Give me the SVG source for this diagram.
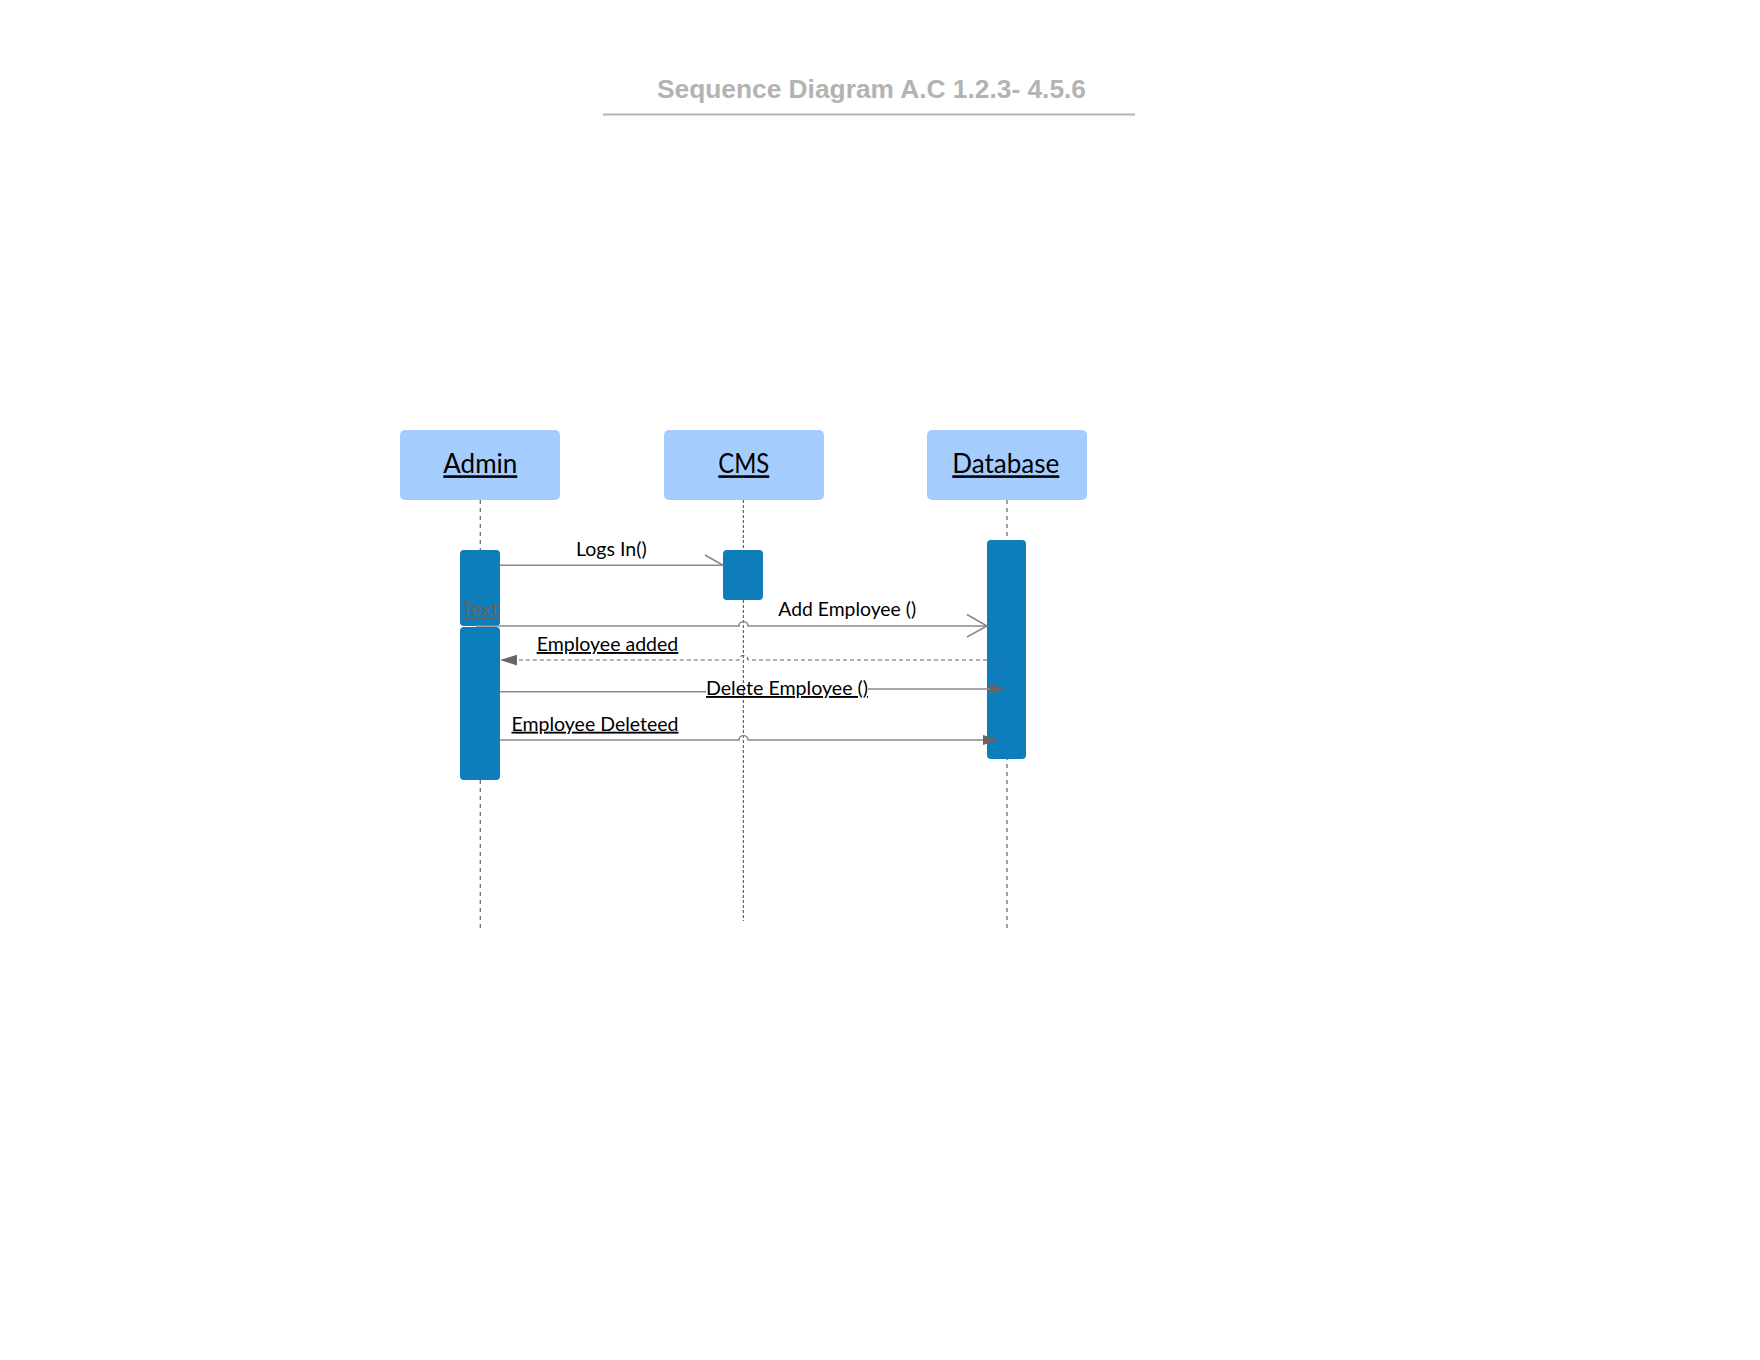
<svg xmlns="http://www.w3.org/2000/svg" width="1760" height="1360" viewBox="0 0 1760 1360">
<style>
.head{fill:#a4cdfe;}
.act{fill:#0d7dbc;}
.hl{font-family:Lato,"Noto Sans","Liberation Sans",sans-serif;font-size:26px;fill:#000;text-decoration:underline;text-anchor:middle;}
.lbl{font-family:Lato,"Noto Sans","Liberation Sans",sans-serif;font-size:19px;fill:#000;text-anchor:middle;}
.u{text-decoration:underline;}
.life{stroke:#666;stroke-width:1.2;fill:none;}
.msg{stroke:#8a8a8a;stroke-width:1.6;fill:none;}
.dash{stroke:#666;stroke-width:1.2;fill:none;stroke-dasharray:4 3;}
.tip{fill:#666;}
</style>
<rect width="1760" height="1360" fill="#fff"/>
<g id="title">
<text x="657" y="97.5" font-family="Liberation Sans,Arial,sans-serif" font-weight="bold" font-size="26" fill="#b3b3b3" textLength="429" lengthAdjust="spacingAndGlyphs">Sequence Diagram A.C 1.2.3- 4.5.6</text>
<line x1="603" y1="114.5" x2="1135" y2="114.5" stroke="#b3b3b3" stroke-width="2"/>
</g>
<g id="lifelines-under">
<line class="life" x1="480.3" y1="500" x2="480.3" y2="931" stroke-dasharray="4 4"/>
<line class="life" x1="1007" y1="500" x2="1007" y2="931" stroke-dasharray="4 4" stroke-width="1.6"/>
</g>
<g id="node-admin">
<rect class="head" x="400" y="430" width="160" height="70" rx="5"/>
<text class="hl" x="480.3" y="473.3" textLength="74" lengthAdjust="spacingAndGlyphs">Admin</text>
<rect class="act" x="460" y="550" width="40" height="76" rx="4"/>
<rect class="act" x="460" y="627" width="40" height="153" rx="4"/>
</g>
<g id="node-cms">
<rect class="head" x="664" y="430" width="160" height="70" rx="5"/>
<text class="hl" x="743.8" y="473.3" textLength="51" lengthAdjust="spacingAndGlyphs">CMS</text>
<rect class="act" x="723" y="550" width="40" height="50" rx="4"/>
</g>
<g id="node-database">
<rect class="head" x="927" y="430" width="160" height="70" rx="5"/>
<text class="hl" x="1005.8" y="473.3" textLength="107" lengthAdjust="spacingAndGlyphs">Database</text>
<rect class="act" x="987" y="540" width="39" height="219" rx="4"/>
</g>
<g id="lifeline-cms">
<line class="life" x1="743.4" y1="500" x2="743.4" y2="921" stroke-dasharray="3 2"/>
</g>
<g id="connectors">
<line class="msg" x1="500" y1="565.3" x2="723" y2="565.3"/>
<line class="msg" x1="705" y1="555" x2="723" y2="565.3"/>
<path class="msg" d="M476,626 H739 A4.5,4.5 0 0 1 748,626 H987"/>
<path class="msg" d="M967,614.5 L987,626 L967,637"/>
<path class="dash" d="M1001,660 H748 A4.5,4.5 0 0 0 739,660 H515"/>
<polygon class="tip" points="500,660 517,654.8 517,665.5"/>
<line class="msg" x1="500" y1="691.7" x2="706" y2="691.7"/>
<line class="msg" x1="868" y1="689" x2="992" y2="689"/>
<polygon class="tip" points="1005,689 990,683.5 990,694.3"/>
<path class="msg" d="M500,740 H739 A4.5,4.5 0 0 1 748,740 H985"/>
<polygon class="tip" points="999,740 983,735 983,745"/>
</g>
<g id="labels">
<text class="lbl" x="611.3" y="556" textLength="70.7" lengthAdjust="spacingAndGlyphs">Logs In()</text>
<text class="lbl u" x="480" y="616" style="fill:#666" textLength="38" lengthAdjust="spacingAndGlyphs">Text</text>
<text class="lbl" x="847.2" y="616" textLength="137.7" lengthAdjust="spacingAndGlyphs">Add Employee ()</text>
<text class="lbl u" x="607.5" y="651" textLength="141.6" lengthAdjust="spacingAndGlyphs">Employee added</text>
<text class="lbl u" x="787" y="695" textLength="162" lengthAdjust="spacingAndGlyphs">Delete Employee ()</text>
<text class="lbl u" x="595" y="730.7" textLength="167" lengthAdjust="spacingAndGlyphs">Employee Deleteed</text>
</g>
</svg>
